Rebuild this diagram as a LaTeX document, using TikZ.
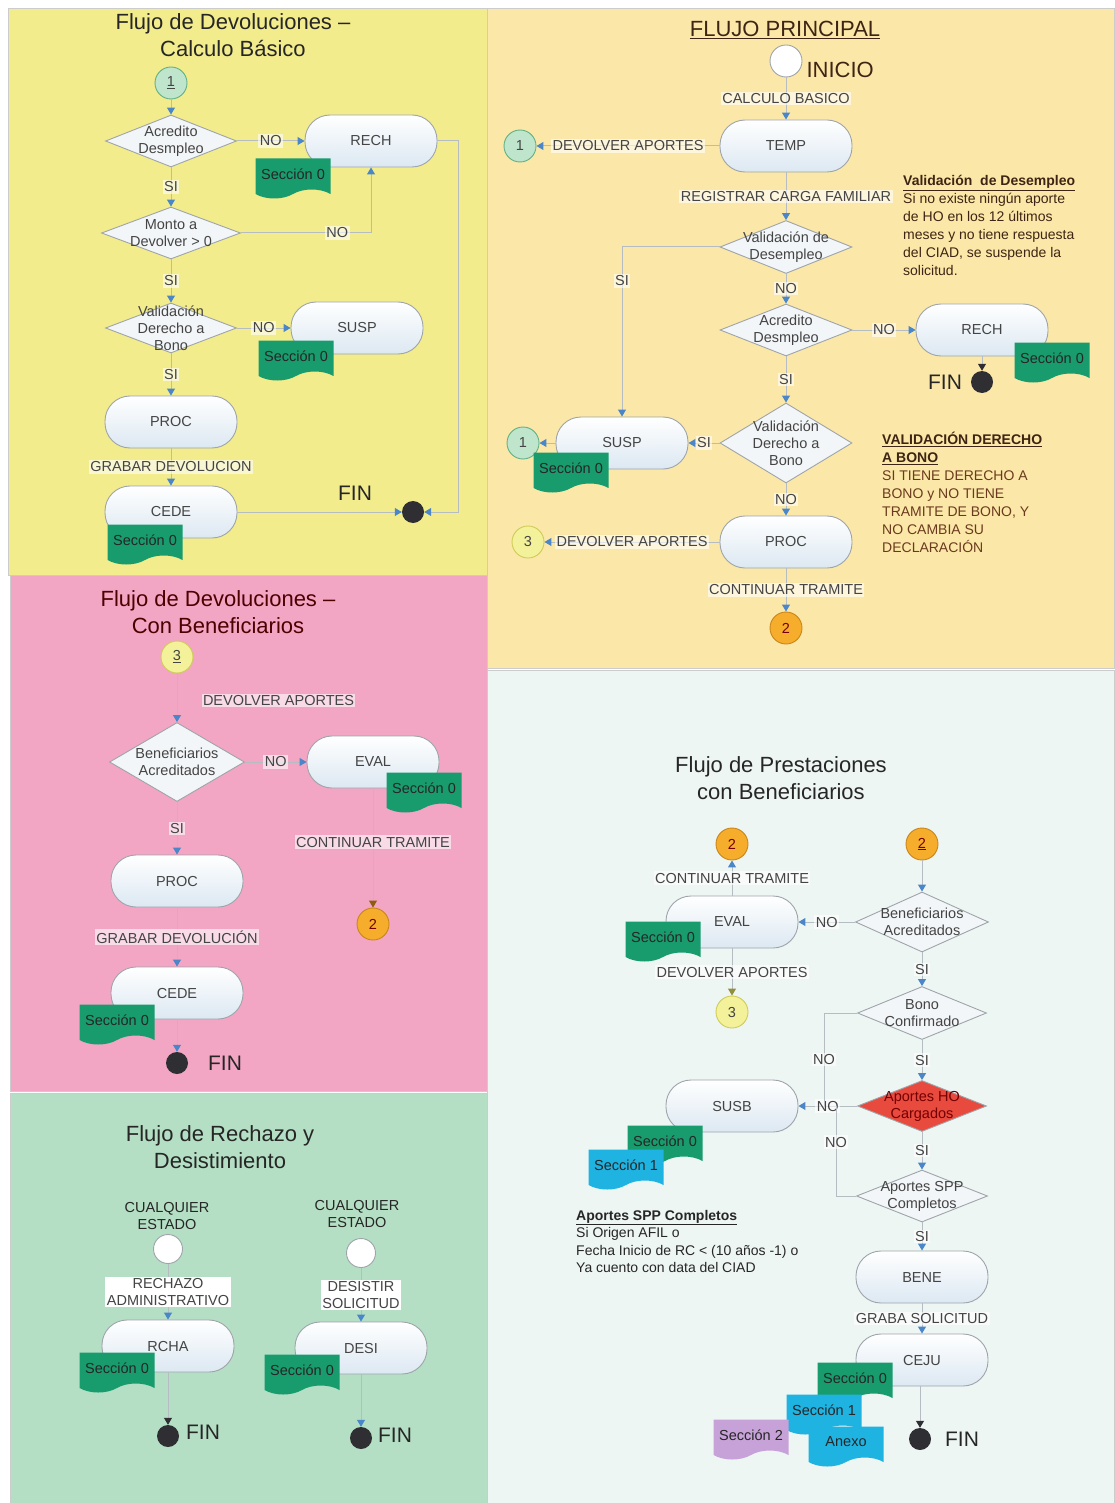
\documentclass[tikz,border=0pt]{standalone}
\usepackage{fontspec}
\setmainfont{Liberation Sans}
\usetikzlibrary{shapes.geometric,shapes.symbols,arrows.meta,positioning}

\definecolor{panelyel}{HTML}{F2EC8C}
\definecolor{panelorg}{HTML}{FBE8A8}
\definecolor{panelpnk}{HTML}{F2A6C4}
\definecolor{panelgrn}{HTML}{B4DFC4}
\definecolor{panelwht}{HTML}{EEF6F4}
\definecolor{edgegray}{HTML}{9EA4AA}
\definecolor{linegray}{HTML}{B5BCC2}
\definecolor{tipblue}{HTML}{4A86C8}
\definecolor{boxblue}{HTML}{DCE8F2}
\definecolor{diafill}{HTML}{F3F6F8}
\definecolor{secgreen}{HTML}{189C6E}
\definecolor{seccyan}{HTML}{1FB3E2}
\definecolor{seclila}{HTML}{C7A2D8}
\definecolor{txtgray}{HTML}{444444}
\definecolor{txtdark}{HTML}{262626}
\definecolor{txtbrown}{HTML}{3E2414}
\definecolor{notebrown}{HTML}{6B3A1E}
\definecolor{onefill}{HTML}{BFE5CD}
\definecolor{onedraw}{HTML}{62B086}
\definecolor{twofill}{HTML}{F6AD2C}
\definecolor{twodraw}{HTML}{C8861A}
\definecolor{threefill}{HTML}{F3F19A}
\definecolor{threedraw}{HTML}{CFCB58}
\definecolor{hored}{HTML}{E84A3E}
\definecolor{dotgray}{HTML}{2F2F33}

\newcommand\bodyfont{\fontsize{14.5}{17}\selectfont}
\newcommand\titlefont{\fontsize{22}{27}\selectfont}

\tikzset{
  panel/.style={draw=gray!40, line width=0.6pt},
  term/.style={rectangle, rounded corners=25pt, draw=edgegray, line width=0.9pt,
    top color=white, bottom color=boxblue, minimum width=132pt, minimum height=52pt,
    font=\bodyfont, text=txtgray},
  dia/.style={diamond, draw=edgegray, line width=0.9pt, fill=diafill,
    minimum width=132pt, minimum height=52pt, inner sep=0pt},
  dtxt/.style={font=\bodyfont, text=txtgray, align=center, inner sep=0pt},
  secdoc/.style={tape, tape bend top=none, tape bend height=9pt, draw=none, fill=secgreen,
    minimum width=75pt, minimum height=40pt, font=\bodyfont, text=txtdark, inner sep=1pt},
  conn/.style={circle, line width=0.9pt, minimum size=32pt, inner sep=0pt, font=\bodyfont},
  one/.style={conn, fill=onefill, draw=onedraw, text=txtgray},
  two/.style={conn, fill=twofill, draw=twodraw, text=red!45!black},
  three/.style={conn, fill=threefill, draw=threedraw, text=txtgray},
  startc/.style={circle, draw=edgegray, fill=white, line width=0.9pt, minimum size=#1, inner sep=0pt},
  findot/.style={circle, fill=dotgray, minimum size=22pt, inner sep=0pt},
  fintxt/.style={font=\fontsize{21}{24}\selectfont, text=txtdark},
  ttl/.style={font=\titlefont, text=txtdark, align=center},
  lbl/.style={fill=white, fill opacity=.6, text opacity=1, inner sep=1.5pt,
    font=\bodyfont, text=txtgray, align=center},
  note/.style={font=\fontsize{14}{18}\selectfont, align=left, anchor=north west, inner sep=0pt},
  wire/.style={draw=linegray, line width=1pt},
  flow/.style={wire, -{Triangle[length=7pt,width=8pt,color=tipblue]}},
  flowdk/.style={wire, -{Triangle[length=7pt,width=8pt,color=dotgray]}},
}

\begin{document}
\begin{tikzpicture}[x=1pt,y=-1pt]
  \useasboundingbox (0,0) rectangle (1114,1503);
  % backgrounds of the five panels
  \fill[white] (0,0) rectangle (1114,1503);
  \filldraw[panel, fill=panelyel] (8,8) rectangle (487,575);
  \filldraw[panel, fill=panelorg] (487,8) rectangle (1114,668);
  \filldraw[panel, fill=panelpnk] (10,575) rectangle (487,1091);
  \filldraw[panel, fill=panelgrn] (10,1093) rectangle (487,1503);
  \filldraw[panel, fill=panelwht] (487,670) rectangle (1114,1503);

  % devoluciones: calculo basico
  \node[ttl] (yTitle) at (233,35) {Flujo de Devoluciones –\\Calculo Básico};
  \node[one] (yOne) at (171,83) {\underline{1}};
  \node[dia, minimum width=131pt, label={[dtxt]center:{Acredito\\Desmpleo}}] (yAcr) at (171,141) {};
  \node[term] (yRech) at (371,141) {RECH};
  \node[dia, minimum width=139pt, label={[dtxt]center:{Monto a\\Devolver > 0}}] (yMonto) at (171,233) {};
  \node[dia, minimum width=131pt, minimum height=50pt, label={[dtxt]center:{Validación\\Derecho a\\Bono}}] (yDer) at (171,328) {};
  \node[term] (ySusp) at (357,328) {SUSP};
  \node[term] (yProc) at (171,422) {PROC};
  \node[term] (yCede) at (171,512) {CEDE};
  \node[fintxt] (yFinT) at (355,493) {FIN};
  \node[findot] (yFin) at (413,512) {};
  \draw[flow] (yOne) -- (yAcr);
  \draw[flow] (yAcr) -- node[lbl]{NO} (yRech);
  \draw[flow] (yAcr) -- node[lbl]{SI} (yMonto);
  \draw[flow] (yMonto.east) -| node[lbl,pos=.37]{NO} (yRech.south);
  \draw[flow] (yMonto) -- node[lbl]{SI} (yDer);
  \draw[flow] (yDer) -- node[lbl]{NO} (ySusp);
  \draw[flow] (yDer) -- node[lbl]{SI} (yProc);
  \draw[flow] (yProc) -- node[lbl]{GRABAR DEVOLUCION} (yCede);
  \draw[flow] (yCede) -- (yFin);
  \draw[flow] (yRech.east) -- ++(21,0) |- (yFin);
  \node[secdoc] (ySecA) at (293,174) {Sección 0};
  \node[secdoc] (ySecB) at (296,356) {Sección 0};
  \node[secdoc] (ySecC) at (145,540) {Sección 0};

  % flujo principal
  \node[font=\titlefont, text=txtbrown] (pTitle) at (785,30) {\underline{FLUJO PRINCIPAL}};
  \node[startc=32pt] (pIni) at (786,61) {};
  \node[font=\titlefont, text=txtbrown, anchor=west] (pIniT) at (803,70) {INICIO};
  \node[term] (pTemp) at (786,146) {TEMP};
  \node[one] (pOneA) at (520,146) {1};
  \node[dia, minimum height=53pt, label={[dtxt]center:{Validación de\\Desempleo}}] (pVal) at (786,247) {};
  \node[dia, label={[dtxt]center:{Acredito\\Desmpleo}}] (pAcr) at (786,330) {};
  \node[term] (pRech) at (982,330) {RECH};
  \node[findot] (pFin) at (982,382) {};
  \node[fintxt] (pFinT) at (945,382) {FIN};
  \node[dia, minimum height=80pt, label={[dtxt]center:{Validación\\Derecho a\\Bono}}] (pDer) at (786,443) {};
  \node[term] (pSusp) at (622,443) {SUSP};
  \node[one] (pOneB) at (523,443) {1};
  \node[term] (pProc) at (786,542) {PROC};
  \node[three] (pThree) at (528,542) {3};
  \node[two] (pTwo) at (786,628) {2};
  \draw[flow] (pIni) -- node[lbl]{CALCULO BASICO} (pTemp);
  \draw[flow] (pTemp) -- node[lbl]{DEVOLVER APORTES} (pOneA);
  \draw[flow] (pTemp) -- node[lbl]{REGISTRAR CARGA FAMILIAR} (pVal);
  \draw[flow] (pVal.west) -| node[lbl,pos=.6]{SI} (pSusp.north);
  \draw[flow] (pVal) -- node[lbl]{NO} (pAcr);
  \draw[flow] (pAcr) -- node[lbl]{NO} (pRech);
  \draw[flowdk] (pRech) -- (pFin);
  \draw[flow] (pAcr) -- node[lbl]{SI} (pDer);
  \draw[flow] (pDer) -- node[lbl]{SI} (pSusp);
  \draw[flow] (pSusp) -- (pOneB);
  \draw[flow] (pDer) -- node[lbl]{NO} (pProc);
  \draw[flow] (pProc) -- node[lbl]{DEVOLVER APORTES} (pThree);
  \draw[flow] (pProc) -- node[lbl]{CONTINUAR TRAMITE} (pTwo);
  \node[secdoc] (pSecA) at (1052,358) {Sección 0};
  \node[secdoc] (pSecB) at (571,468) {Sección 0};
  \node[note, text=txtbrown] (pNoteA) at (903,175)
    {\textbf{\underline{Validación\ \ de Desempleo}}\\Si no existe ningún aporte\\de HO en los 12 últimos\\meses y no tiene respuesta\\del CIAD, se suspende la\\solicitud.};
  \node[note, text=notebrown] (pNoteB) at (882,432)
    {\textcolor{txtbrown}{\textbf{\underline{VALIDACIÓN DERECHO}}}\\\textcolor{txtbrown}{\textbf{\underline{A BONO}}}\\SI TIENE DERECHO A\\BONO y NO TIENE\\TRAMITE DE BONO, Y\\NO CAMBIA SU\\DECLARACIÓN};

  % devoluciones: con beneficiarios
  \node[ttl, text=red!30!black] (kTitle) at (218,612) {Flujo de Devoluciones –\\Con Beneficiarios};
  \node[three] (kThree) at (177,657) {\underline{3}};
  \node[dia, minimum width=135pt, minimum height=79pt, label={[dtxt]center:{Beneficiarios\\Acreditados}}] (kBen) at (177,762) {};
  \node[term] (kEval) at (373,762) {EVAL};
  \node[two] (kTwo) at (373,924) {2};
  \node[term] (kProc) at (177,881) {PROC};
  \node[term] (kCede) at (177,993) {CEDE};
  \node[findot] (kFin) at (177,1063) {};
  \node[fintxt] (kFinT) at (225,1063) {FIN};
  \draw[flow] (kThree) -- node[lbl, pos=.55, right=24pt]{DEVOLVER APORTES} (kBen);
  \draw[flow] (kBen) -- node[lbl]{NO} (kEval);
  \draw[wire, -{Triangle[length=7pt,width=8pt,color=twodraw!70!black]}] (kEval) -- node[lbl, pos=.45]{CONTINUAR TRAMITE} (kTwo);
  \draw[flow] (kBen) -- node[lbl]{SI} (kProc);
  \draw[flow] (kProc) -- node[lbl]{GRABAR DEVOLUCIÓN} (kCede);
  \draw[flow] (kCede) -- (kFin);
  \node[secdoc] (kSecA) at (424,788) {Sección 0};
  \node[secdoc] (kSecB) at (117,1020) {Sección 0};

  % rechazo y desistimiento
  \node[ttl] (gTitle) at (220,1147) {Flujo de Rechazo y\\Desistimiento};
  \node[font=\bodyfont, text=txtdark, align=center] (gAnyA) at (167,1216) {CUALQUIER\\ESTADO};
  \node[startc=29pt] (gIniA) at (168,1249) {};
  \node[term] (gRcha) at (168,1346) {RCHA};
  \node[findot] (gFinA) at (168,1436) {};
  \node[fintxt] (gFinAT) at (203,1432) {FIN};
  \draw[flow] (gIniA) -- node[lbl, fill opacity=1]{RECHAZO\\ADMINISTRATIVO} (gRcha);
  \draw[flowdk] (gRcha) -- (gFinA);
  \node[font=\bodyfont, text=txtdark, align=center] (gAnyB) at (357,1214) {CUALQUIER\\ESTADO};
  \node[startc=29pt] (gIniB) at (361,1253) {};
  \node[term] (gDesi) at (361,1348) {DESI};
  \node[findot] (gFinB) at (361,1438) {};
  \node[fintxt] (gFinBT) at (395,1435) {FIN};
  \draw[flow] (gIniB) -- node[lbl, fill opacity=1]{DESISTIR\\SOLICITUD} (gDesi);
  \draw[flow] (gDesi) -- (gFinB);
  \node[secdoc] (gSecA) at (117,1368) {Sección 0};
  \node[secdoc] (gSecB) at (302,1370) {Sección 0};

  % prestaciones con beneficiarios
  \node[ttl, text=txtdark] (bTitle) at (781,778) {Flujo de Prestaciones\\con Beneficiarios};
  \node[two] (bTwoA) at (732,844) {2};
  \node[term] (bEval) at (732,922) {EVAL};
  \node[three] (bThree) at (732,1012) {3};
  \node[two] (bTwoB) at (922,844) {\underline{2}};
  \node[dia, minimum width=133pt, minimum height=60pt, label={[dtxt]center:{Beneficiarios\\Acreditados}}] (bBen) at (922,922) {};
  \node[dia, minimum width=129pt, minimum height=53pt, label={[dtxt]center:{Bono\\Confirmado}}] (bBono) at (922,1013) {};
  \node[dia, minimum width=129pt, minimum height=51pt, fill=hored, label={[dtxt, text=red!45!black]center:{Aportes HO\\Cargados}}] (bHO) at (922,1106) {};
  \node[term] (bSusb) at (732,1106) {SUSB};
  \node[dia, minimum width=131pt, label={[dtxt]center:{Aportes SPP\\Completos}}] (bSpp) at (922,1196) {};
  \node[term] (bBene) at (922,1277) {BENE};
  \node[term] (bCeju) at (922,1360) {CEJU};
  \node[findot] (bFin) at (920,1439) {};
  \node[fintxt] (bFinT) at (962,1439) {FIN};
  \coordinate (bJoinA) at (824,1106);
  \coordinate (bJoinB) at (836,1106);
  \draw[flow] (bEval) -- node[lbl]{CONTINUAR TRAMITE} (bTwoA);
  \draw[wire, -{Triangle[length=7pt,width=8pt,color=threedraw!70!black]}] (bEval) -- node[lbl]{DEVOLVER APORTES} (bThree);
  \draw[flow] (bTwoB) -- (bBen);
  \draw[flow] (bBen) -- node[lbl]{NO} (bEval);
  \draw[flow] (bBen) -- node[lbl]{SI} (bBono);
  \draw[flow] (bBono) -- node[lbl]{SI} (bHO);
  \draw[flow] (bHO) -- node[lbl]{NO} (bSusb);
  \draw[flow] (bHO) -- node[lbl]{SI} (bSpp);
  \draw[flow] (bSpp) -- node[lbl]{SI} (bBene);
  \draw[flow] (bBene) -- node[lbl]{GRABA SOLICITUD} (bCeju);
  \draw[flowdk] (bCeju.south -| bFin) -- (bFin);
  \draw[wire] (bBono.west) -| node[lbl,pos=.75]{NO} (bJoinA);
  \draw[wire] (bSpp.west) -| node[lbl,pos=.8]{NO} (bJoinB);
  \node[secdoc] (bSecA) at (663,937) {Sección 0};
  \node[secdoc] (bSecB) at (665,1141) {Sección 0};
  \node[secdoc, fill=seccyan] (bSecC) at (626,1165) {Sección 1};
  \node[secdoc] (bSecD) at (855,1378) {Sección 0};
  \node[secdoc, fill=seccyan] (bSecE) at (824,1410) {Sección 1};
  \node[secdoc, fill=seclila] (bSecF) at (751,1435) {Sección 2};
  \node[secdoc, fill=seccyan] (bAnexo) at (846,1442) {Anexo};
  \node[note, text=txtdark, font=\fontsize{14}{17.5}\selectfont] (bNote) at (576,1210)
    {\textbf{\underline{Aportes SPP Completos}}\\Si Origen AFIL o\\Fecha Inicio de RC < (10 años -1) o\\Ya cuento con data del CIAD};
\end{tikzpicture}
\end{document}
